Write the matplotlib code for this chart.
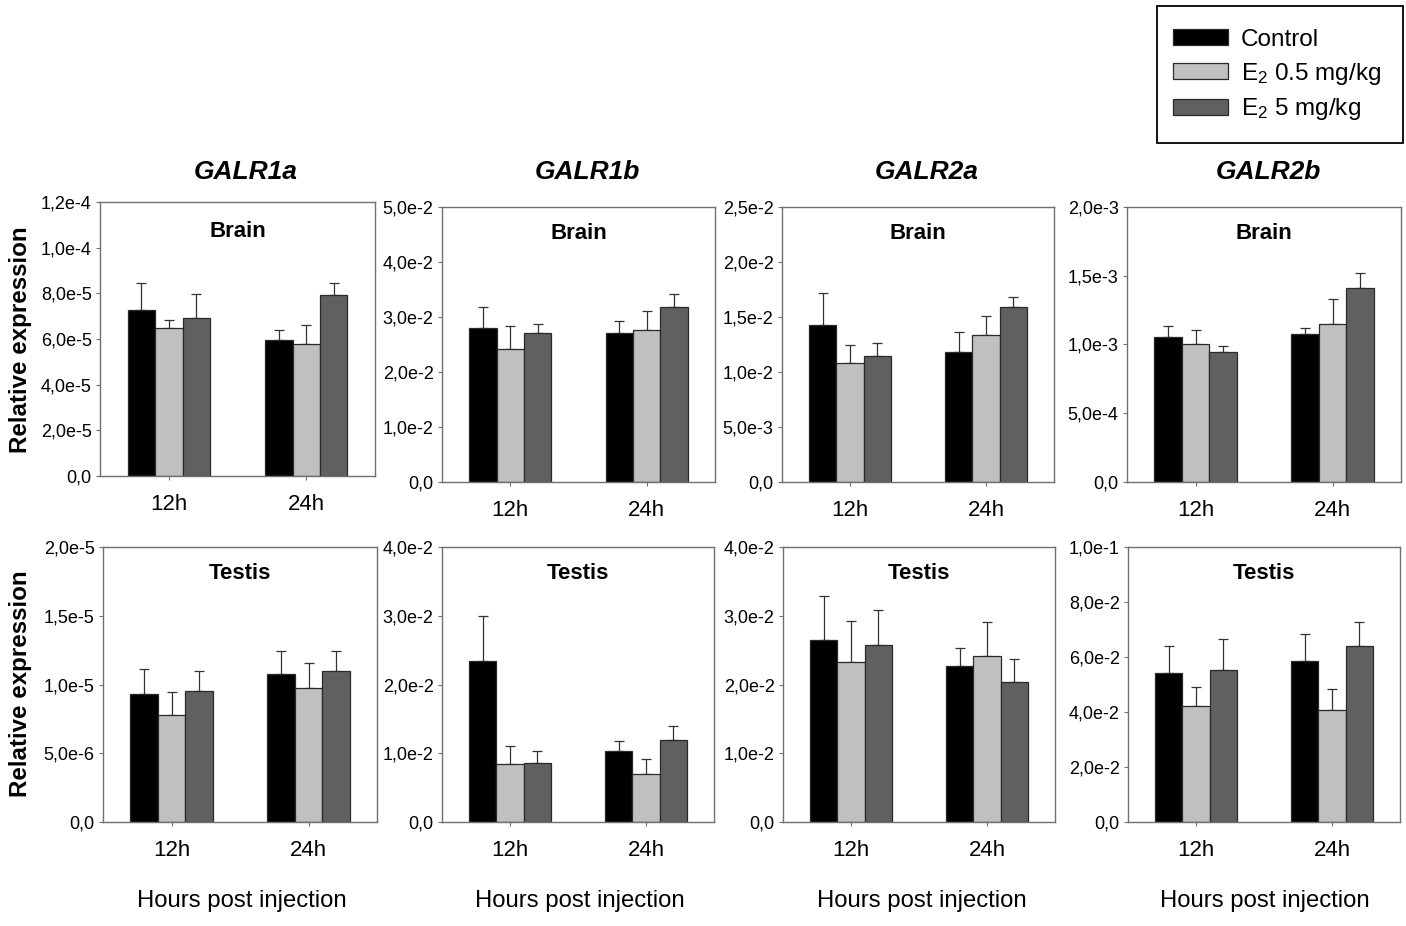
import matplotlib
matplotlib.use('Agg')
import matplotlib.pyplot as plt
import numpy as np
from matplotlib.ticker import FuncFormatter, FixedLocator
from matplotlib.patches import Patch, Rectangle

plt.rcParams['font.family'] = ['Liberation Sans', 'DejaVu Sans']
plt.rcParams['mathtext.fontset'] = 'custom'
plt.rcParams['mathtext.rm'] = 'Liberation Sans'
plt.rcParams['mathtext.it'] = 'Liberation Sans:italic'
plt.rcParams['mathtext.bf'] = 'Liberation Sans:bold'

W, H = 1406, 926

genes = ['GALR1a', 'GALR1b', 'GALR2a', 'GALR2b']
tissues = ['Brain', 'Testis']
times = ['12h', '24h']
treatments = ['Control', r'E$_2$ 0.5 mg/kg', r'E$_2$ 5 mg/kg']
bar_colors = ['#000000', '#c0c0c0', '#606060']

# ---- Brain: means [treatment][time], errors (SEM) [treatment][time]
brain_GALR1a_mean = [[7.29e-5, 5.95e-5], [6.46e-5, 5.80e-5], [6.94e-5, 7.94e-5]]
brain_GALR1a_err = [[1.16e-5, 0.45e-5], [0.38e-5, 0.83e-5], [1.03e-5, 0.51e-5]]
brain_GALR1b_mean = [[2.80e-2, 2.70e-2], [2.42e-2, 2.77e-2], [2.70e-2, 3.18e-2]]
brain_GALR1b_err = [[0.39e-2, 0.22e-2], [0.41e-2, 0.34e-2], [0.18e-2, 0.24e-2]]
brain_GALR2a_mean = [[1.427e-2, 1.185e-2], [1.085e-2, 1.339e-2], [1.148e-2, 1.588e-2]]
brain_GALR2a_err = [[0.29e-2, 0.18e-2], [0.16e-2, 0.167e-2], [0.115e-2, 0.094e-2]]
brain_GALR2b_mean = [[1.052e-3, 1.074e-3], [1.006e-3, 1.149e-3], [0.946e-3, 1.412e-3]]
brain_GALR2b_err = [[0.080e-3, 0.046e-3], [0.097e-3, 0.179e-3], [0.041e-3, 0.107e-3]]

# ---- Testis
testis_GALR1a_mean = [[9.30e-6, 10.80e-6], [7.80e-6, 9.78e-6], [9.55e-6, 10.99e-6]]
testis_GALR1a_err = [[1.85e-6, 1.64e-6], [1.65e-6, 1.81e-6], [1.45e-6, 1.44e-6]]
testis_GALR1b_mean = [[2.346e-2, 1.038e-2], [0.839e-2, 0.698e-2], [0.858e-2, 1.198e-2]]
testis_GALR1b_err = [[0.654e-2, 0.135e-2], [0.26e-2, 0.214e-2], [0.17e-2, 0.198e-2]]
testis_GALR2a_mean = [[2.644e-2, 2.274e-2], [2.332e-2, 2.409e-2], [2.577e-2, 2.043e-2]]
testis_GALR2a_err = [[0.644e-2, 0.255e-2], [0.59e-2, 0.50e-2], [0.51e-2, 0.33e-2]]
testis_GALR2b_mean = [[5.43e-2, 5.87e-2], [4.22e-2, 4.07e-2], [5.53e-2, 6.41e-2]]
testis_GALR2b_err = [[0.98e-2, 0.95e-2], [0.69e-2, 0.78e-2], [1.14e-2, 0.85e-2]]

# y-axis maxima and tick steps
brain_ymax = [1.2e-4, 5.0e-2, 2.5e-2, 2.0e-3]
brain_ystep = [2.0e-5, 1.0e-2, 5.0e-3, 5.0e-4]
testis_ymax = [2.0e-5, 4.0e-2, 4.0e-2, 1.0e-1]
testis_ystep = [5.0e-6, 1.0e-2, 1.0e-2, 2.0e-2]

panels = {
    ('Brain', 'GALR1a'): (brain_GALR1a_mean, brain_GALR1a_err),
    ('Brain', 'GALR1b'): (brain_GALR1b_mean, brain_GALR1b_err),
    ('Brain', 'GALR2a'): (brain_GALR2a_mean, brain_GALR2a_err),
    ('Brain', 'GALR2b'): (brain_GALR2b_mean, brain_GALR2b_err),
    ('Testis', 'GALR1a'): (testis_GALR1a_mean, testis_GALR1a_err),
    ('Testis', 'GALR1b'): (testis_GALR1b_mean, testis_GALR1b_err),
    ('Testis', 'GALR2a'): (testis_GALR2a_mean, testis_GALR2a_err),
    ('Testis', 'GALR2b'): (testis_GALR2b_mean, testis_GALR2b_err),
}

# axes boxes in pixels: (left, top, right, bottom)
boxes = {
    ('Brain', 0): (100, 202, 375, 476),
    ('Brain', 1): (442, 207, 715, 482),
    ('Brain', 2): (782, 207, 1054, 482),
    ('Brain', 3): (1127, 207, 1401, 482),
    ('Testis', 0): (103, 547, 377, 822),
    ('Testis', 1): (442, 547, 714, 822),
    ('Testis', 2): (783, 547, 1055, 822),
    ('Testis', 3): (1128, 547, 1400, 822),
}


def fx(px):
    return px / W


def fy(py):
    return 1 - py / H


def yfmt(v, pos):
    if abs(v) < 1e-15:
        return '0,0'
    s = f'{v:.1e}'
    mant, exp = s.split('e')
    return f"{mant.replace('.', ',')}e{int(exp)}"


fig = plt.figure(figsize=(W / 100, H / 100), dpi=100)
spine_col = '#707070'
err_col = '#333333'
bw = 0.2
x = np.arange(len(times))

for r, tissue in enumerate(tissues):
    ymaxs = brain_ymax if r == 0 else testis_ymax
    ysteps = brain_ystep if r == 0 else testis_ystep
    for c, gene in enumerate(genes):
        l, t, rr, b = boxes[(tissue, c)]
        ax = fig.add_axes([fx(l), fy(b), fx(rr) - fx(l), (b - t) / H])
        means, errs = panels[(tissue, gene)]
        for k in range(3):
            xs = x + (k - 1) * bw
            ax.bar(xs, means[k], width=bw, color=bar_colors[k],
                   edgecolor='#2a2a2a', linewidth=0.9, zorder=2)
            ax.errorbar(xs, means[k], yerr=[np.zeros(2), errs[k]], fmt='none',
                        ecolor=err_col, elinewidth=0.9, capsize=3.6,
                        capthick=0.9, zorder=1)
        ax.set_xlim(-0.5, 1.5)
        ax.set_ylim(0, ymaxs[c])
        ticks = np.linspace(0, ymaxs[c], int(round(ymaxs[c] / ysteps[c])) + 1)
        ax.yaxis.set_major_locator(FixedLocator(ticks))
        ax.yaxis.set_major_formatter(FuncFormatter(yfmt))
        ax.set_xticks(x)
        ax.set_xticklabels(times)
        for s in ax.spines.values():
            s.set_color(spine_col)
            s.set_linewidth(1.0)
        ax.tick_params(axis='y', direction='out', length=3, width=0.8,
                       color=spine_col, labelsize=13, pad=3)
        ax.tick_params(axis='x', direction='out', length=3, width=0.8,
                       color=spine_col, labelsize=16, pad=10)
        ax.text(0.5, 0.905 if not (r == 0 and c == 0) else 0.893, tissue,
                transform=ax.transAxes, ha='center', va='center',
                fontsize=16, fontweight='bold')

# gene titles
title_x = [246, 587, 927, 1268]
for gx, gene in zip(title_x, genes):
    fig.text(fx(gx), fy(172), gene, ha='center', va='center', fontsize=19,
             fontweight='bold', fontstyle='italic')

# y labels
for yc in [340, 684]:
    fig.text(fx(21), fy(yc), 'Relative expression', rotation=90,
             ha='center', va='center', fontsize=17.4, fontweight='bold')

# x labels
for hx in [242, 580, 922, 1265]:
    fig.text(fx(hx), fy(901), 'Hours post injection', ha='center',
             va='center', fontsize=17.2)

# legend frame
fig.patches.append(Rectangle((fx(1157), fy(143)), fx(1403) - fx(1157),
                             (143 - 6) / H, transform=fig.transFigure,
                             fill=False, edgecolor='black', linewidth=1.3))
handles = [Patch(facecolor=bar_colors[k], edgecolor='#2a2a2a', linewidth=0.9)
           for k in range(3)]
leg = fig.legend(handles, treatments, loc='upper left',
                 bbox_to_anchor=(fx(1157), fy(13)), fontsize=17.5,
                 frameon=False,
                 handlelength=2.26, handleheight=0.62, handletextpad=0.55,
                 labelspacing=0.4, borderpad=0.65, borderaxespad=0)

fig.savefig('out.png', dpi=100)
